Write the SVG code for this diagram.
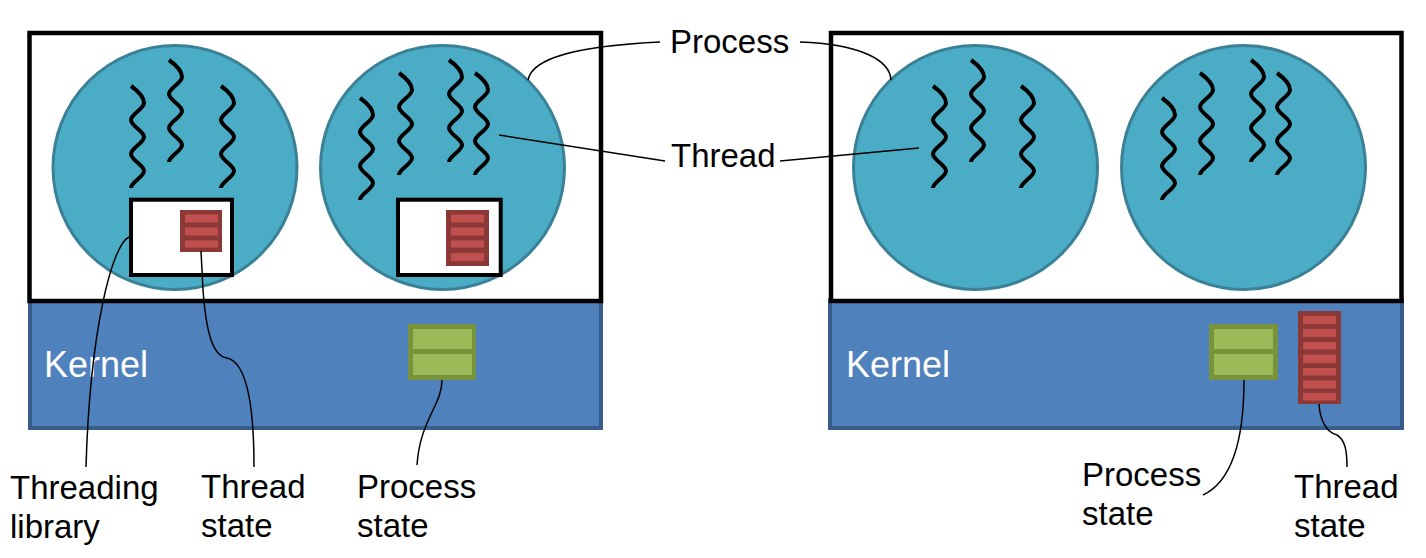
<svg xmlns="http://www.w3.org/2000/svg" xmlns:xlink="http://www.w3.org/1999/xlink" width="1426" height="558" viewBox="0 0 1426 558">
  <style>
    .kernel { fill: #4F81BD; stroke: #385D8A; stroke-width: 4; }
    .proc { fill: #FFFFFF; stroke: #000000; stroke-width: 4.5; }
    .circ { fill: #4BACC6; stroke: #3A8096; stroke-width: 3; }
    .lib { fill: #FFFFFF; stroke: #000000; stroke-width: 4; }
    .rframe { fill: #8C3836; }
    .rbar { fill: #C0504D; }
    .gframe { fill: #77933C; }
    .gbar { fill: #9BBB59; }
    .thr { fill: none; stroke: #000000; stroke-width: 4; }
    .conn { fill: none; stroke: #000000; stroke-width: 1.5; }
    .lbl { font-family: "Liberation Sans", Arial, sans-serif; font-size: 33px; fill: #000000; }
    .klbl { font-family: "Liberation Sans", Arial, sans-serif; font-size: 36px; fill: #FFFFFF; }
  </style>
  <defs>
    <path id="thread" class="thr" d="M0,0 c7,5 13,11 13,17 s-13,11 -13,17 s13,11 13,17 s-13,11 -13,17 s13,11 13,17 s-13,11 -13,17"/>
  </defs>
  <rect width="1426" height="558" fill="#FFFFFF"/>

  <g id="left-system">
    <g id="kernel-left">
      <rect class="kernel" x="30" y="300" width="571" height="128"/>
      <text class="klbl" x="44" y="377">Kernel</text>
    </g>
    <g id="userspace-left">
      <rect class="proc" x="29.5" y="33" width="571.5" height="268"/>
    </g>
    <g id="process-1">
      <circle class="circ" cx="175" cy="167.5" r="122"/>
      <use xlink:href="#thread" href="#thread" transform="translate(131,86)"/>
      <use xlink:href="#thread" href="#thread" transform="translate(169,60)"/>
      <use xlink:href="#thread" href="#thread" transform="translate(221,86)"/>
      <g id="threading-library-1">
        <rect class="lib" x="131" y="199.7" width="101" height="75.3"/>
        <g id="thread-state-1">
          <rect class="rframe" x="180" y="210" width="42" height="42"/>
          <rect class="rbar" x="185" y="214.5" width="33" height="8"/>
          <rect class="rbar" x="185" y="227.5" width="33" height="8"/>
          <rect class="rbar" x="185" y="240.5" width="33" height="7"/>
        </g>
      </g>
    </g>
    <g id="process-2">
      <circle class="circ" cx="442.5" cy="167.5" r="122"/>
      <use xlink:href="#thread" href="#thread" transform="translate(360,98)"/>
      <use xlink:href="#thread" href="#thread" transform="translate(399,73)"/>
      <use xlink:href="#thread" href="#thread" transform="translate(449,60)"/>
      <use xlink:href="#thread" href="#thread" transform="translate(475,73)"/>
      <g id="threading-library-2">
        <rect class="lib" x="398" y="199.7" width="102.7" height="75.3"/>
        <g id="thread-state-2">
          <rect class="rframe" x="446" y="210" width="43" height="56"/>
          <rect class="rbar" x="451" y="214.5" width="33" height="8"/>
          <rect class="rbar" x="451" y="227.5" width="33" height="8"/>
          <rect class="rbar" x="451" y="240.5" width="33" height="7"/>
          <rect class="rbar" x="451" y="253" width="33" height="8"/>
        </g>
      </g>
    </g>
    <g id="process-state-left">
      <rect class="gframe" x="408" y="324" width="68" height="56"/>
      <rect class="gbar" x="413" y="329" width="59" height="20"/>
      <rect class="gbar" x="413" y="354" width="59" height="21"/>
    </g>
  </g>

  <g id="right-system">
    <g id="kernel-right">
      <rect class="kernel" x="830" y="300" width="572" height="128"/>
      <text class="klbl" x="846" y="377">Kernel</text>
    </g>
    <g id="userspace-right">
      <rect class="proc" x="831" y="33" width="570.5" height="268"/>
    </g>
    <g id="process-3">
      <circle class="circ" cx="975.5" cy="167.5" r="122"/>
      <use xlink:href="#thread" href="#thread" transform="translate(933,86)"/>
      <use xlink:href="#thread" href="#thread" transform="translate(971,60)"/>
      <use xlink:href="#thread" href="#thread" transform="translate(1021,86)"/>
    </g>
    <g id="process-4">
      <circle class="circ" cx="1243.5" cy="167.5" r="122"/>
      <use xlink:href="#thread" href="#thread" transform="translate(1162,98)"/>
      <use xlink:href="#thread" href="#thread" transform="translate(1200,73)"/>
      <use xlink:href="#thread" href="#thread" transform="translate(1251,60)"/>
      <use xlink:href="#thread" href="#thread" transform="translate(1277,73)"/>
    </g>
    <g id="process-state-right">
      <rect class="gframe" x="1209" y="324" width="69" height="56"/>
      <rect class="gbar" x="1214" y="329" width="59" height="20"/>
      <rect class="gbar" x="1214" y="354" width="59" height="21"/>
    </g>
    <g id="thread-state-right">
      <rect class="rframe" x="1298" y="311" width="43" height="93"/>
      <rect class="rbar" x="1303" y="316" width="33" height="8"/>
      <rect class="rbar" x="1303" y="329" width="33" height="8"/>
      <rect class="rbar" x="1303" y="342" width="33" height="7.5"/>
      <rect class="rbar" x="1303" y="354.5" width="33" height="8.5"/>
      <rect class="rbar" x="1303" y="368" width="33" height="7.5"/>
      <rect class="rbar" x="1303" y="380.5" width="33" height="8"/>
      <rect class="rbar" x="1303" y="393" width="33" height="7.5"/>
    </g>
  </g>

  <g id="connectors">
    <path class="conn" d="M528,80 C531,64 555,47 660,42"/>
    <path class="conn" d="M800,42 C860,44 890,60 891,80"/>
    <path class="conn" d="M499,135 L665,161"/>
    <path class="conn" d="M780,161 L919,148"/>
    <path class="conn" d="M129,237 C112,245 90,330 86,467"/>
    <path class="conn" d="M201,251 L203,290 C206,330 212,356 227,358 C245,362 254,400 254,467"/>
    <path class="conn" d="M442,380 C442,405 420,420 417,465"/>
    <path class="conn" d="M1244,380 C1244,430 1235,480 1203,495"/>
    <path class="conn" d="M1319,404 C1320,420 1326,432 1337,435 C1345,440 1347,450 1347,467"/>
  </g>

  <g id="labels">
    <text class="lbl" x="670" y="53">Process</text>
    <text class="lbl" x="671" y="167">Thread</text>
    <text class="lbl" x="10" y="499">Threading</text>
    <text class="lbl" x="10" y="538">library</text>
    <text class="lbl" x="201" y="498">Thread</text>
    <text class="lbl" x="201" y="537">state</text>
    <text class="lbl" x="357" y="498">Process</text>
    <text class="lbl" x="357" y="537">state</text>
    <text class="lbl" x="1082" y="486">Process</text>
    <text class="lbl" x="1082" y="525">state</text>
    <text class="lbl" x="1294" y="498">Thread</text>
    <text class="lbl" x="1294" y="537">state</text>
  </g>
</svg>
